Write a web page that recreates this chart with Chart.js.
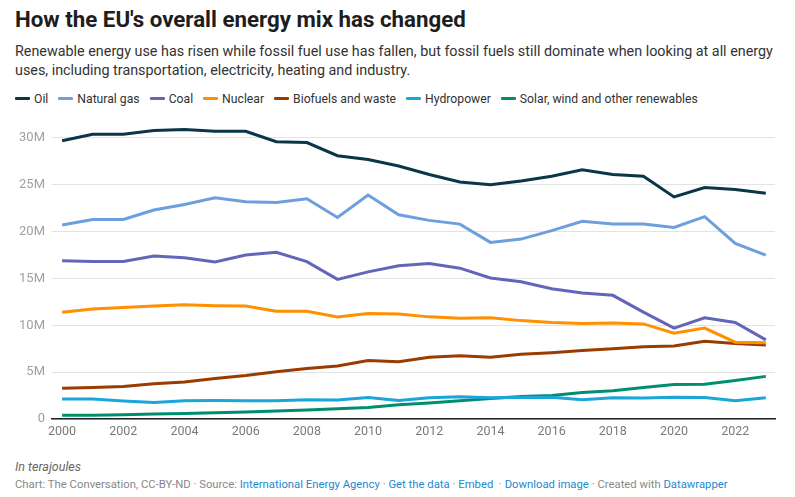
<!DOCTYPE html>
<html>
<head>
<meta charset="utf-8">
<script src="https://cdn.jsdelivr.net/npm/chart.js@4"></script>
<style>
    body { margin: 0; width: 795px; height: 497px; background: #fff; font-family: Roboto, sans-serif; position: relative; overflow: hidden; }
    #title { position: absolute; left: 15px; top: 6px; font-size: 22.3px; font-weight: 700; color: #1d1d1d; }
    #sub { position: absolute; left: 15px; top: 42px; width: 775px; font-size: 14.35px; line-height: 19px; color: #333; }
    #legend { position: absolute; left: 15px; top: 92px; font-size: 12.2px; color: #333; white-space: nowrap; }
    #legend span.item { display: inline-block; margin-right: 10px; }
    #legend span.mark { display: inline-block; width: 15px; height: 3px; vertical-align: middle; margin-right: 4px; position: relative; top: -1px; border-radius: 1px; }
    #wrap { position: absolute; left: 0; top: 110px; width: 795px; height: 345px; }
    #notes { position: absolute; left: 15px; top: 459px; font-size: 12.5px; font-style: italic; color: #666; }
    #foot { position: absolute; left: 15px; top: 478px; font-size: 11.3px; color: #888; white-space: nowrap; }
    #foot a { color: #1a8ad0; text-decoration: none; }
</style>
</head>
<body>
<div id="title">How the EU's overall energy mix has changed</div>
<div id="sub">Renewable energy use has risen while fossil fuel use has fallen, but fossil fuels still dominate when looking at all energy uses, including transportation, electricity, heating and industry.</div>
<div id="legend"></div>
<div id="wrap"><canvas id="chart"></canvas></div>
<div id="notes">In terajoules</div>
<div id="foot">Chart: The Conversation, CC-BY-ND &middot; Source: <a>International Energy Agency</a> &middot; <a>Get the data</a> &middot; <a>Embed</a> &nbsp;&middot; <a>Download image</a> &middot; Created with <a>Datawrapper</a></div>

<script>
// years 2000 - 2023, values in millions of terajoules
const years = [2000, 2001, 2002, 2003, 2004, 2005, 2006, 2007, 2008, 2009, 2010, 2011, 2012, 2013, 2014, 2015, 2016, 2017, 2018, 2019, 2020, 2021, 2022, 2023];
const yearTicks = [2000, 2002, 2004, 2006, 2008, 2010, 2012, 2014, 2016, 2018, 2020, 2022];
const valueTicks = [0, 5, 10, 15, 20, 25, 30];

const oil = [29.7, 30.4, 30.4, 30.8, 30.9, 30.7, 30.7, 29.6, 29.5, 28.1, 27.7, 27.0, 26.1, 25.3, 25.0, 25.4, 25.9, 26.6, 26.1, 25.9, 23.7, 24.7, 24.5, 24.1];
const naturalGas = [20.7, 21.3, 21.3, 22.3, 22.9, 23.6, 23.2, 23.1, 23.5, 21.5, 23.9, 21.8, 21.2, 20.8, 18.85, 19.2, 20.1, 21.1, 20.8, 20.8, 20.45, 21.6, 18.75, 17.5];
const coal = [16.9, 16.8, 16.8, 17.4, 17.2, 16.75, 17.5, 17.8, 16.8, 14.9, 15.7, 16.35, 16.6, 16.1, 15.05, 14.65, 13.9, 13.45, 13.2, 11.4, 9.7, 10.8, 10.3, 8.45];
const nuclear = [11.4, 11.75, 11.9, 12.05, 12.2, 12.1, 12.05, 11.5, 11.5, 10.9, 11.25, 11.2, 10.9, 10.75, 10.8, 10.5, 10.3, 10.2, 10.25, 10.15, 9.15, 9.7, 8.2, 8.15];
const biofuels = [3.27, 3.37, 3.48, 3.77, 3.95, 4.33, 4.65, 5.05, 5.4, 5.65, 6.25, 6.1, 6.6, 6.75, 6.6, 6.9, 7.07, 7.3, 7.5, 7.7, 7.8, 8.3, 8.05, 7.9];
const hydropower = [2.13, 2.13, 1.92, 1.77, 1.95, 1.97, 1.95, 1.95, 2.06, 2.02, 2.3, 1.98, 2.27, 2.38, 2.27, 2.3, 2.33, 2.06, 2.27, 2.23, 2.33, 2.3, 1.95, 2.27];
const solarWind = [0.39, 0.39, 0.46, 0.53, 0.6, 0.67, 0.75, 0.85, 0.96, 1.1, 1.24, 1.53, 1.71, 1.95, 2.2, 2.41, 2.52, 2.84, 3.02, 3.37, 3.69, 3.72, 4.12, 4.55];

const seriesNames = ["Oil", "Natural gas", "Coal", "Nuclear", "Biofuels and waste", "Hydropower", "Solar, wind and other renewables"];
const seriesValues = [oil, naturalGas, coal, nuclear, biofuels, hydropower, solarWind];
const seriesColors = ["#0b3548", "#6d9fdc", "#6366b8", "#ff9000", "#9a3c00", "#1ba5d9", "#008f6e"];


function toPoints(values){
    let pts = [];
    for (let x = 0; x < values.length; x++){
        pts.push({ x: years[x], y: values[x] });
    };
    return pts;
};

let datasets = [];
for (let x = 0; x < seriesNames.length; x++){
    datasets.push({
        label: seriesNames[x],
        data: toPoints(seriesValues[x]),
        borderColor: seriesColors[x],
        backgroundColor: seriesColors[x],
        borderWidth: 3,
        pointRadius: 0,
        tension: 0,
        fill: false,
    });
};

const chart = new Chart(document.getElementById('chart'), {
    type: 'line',
    data: { datasets: datasets },
    options: {
        responsive: true,
        maintainAspectRatio: false,
        animation: false,
        layout: { padding: { top: 0, right: 20, left: 0, bottom: 0 } },
        plugins: {
            legend: { display: false },
            tooltip: { enabled: false },
        },
        scales: {
            x: {
                type: 'linear',
                min: 1999.67,
                max: 2023.3,
                afterBuildTicks: (scale) => { scale.ticks = yearTicks.map(v => ({ value: v })); },
                afterFit: (scale) => { scale.height = 36; },
                grid: { display: false, drawTicks: false },
                border: { display: true, color: '#222', width: 1.5 },
                ticks: {
                    color: '#7a7a7a',
                    padding: 5,
                    maxRotation: 0,
                    font: { family: 'Roboto', size: 12.5 },
                    callback: (v) => String(v),
                },
            },
            y: {
                min: 0,
                max: 31.4,
                afterBuildTicks: (scale) => { scale.ticks = valueTicks.map(v => ({ value: v })); },
                afterFit: (scale) => { scale.width = 52; },
                grid: { color: '#e3e3e3', lineWidth: 1, drawTicks: false },
                border: { display: false },
                ticks: {
                    color: '#a0a0a0',
                    padding: 7,
                    font: { family: 'Roboto', size: 13 },
                    callback: (v) => v === 0 ? '0' : v + 'M',
                },
            },
        },
    },
});

// legend built from the chart's own datasets
let legend = document.getElementById('legend');
for (let ds of chart.data.datasets){
    let item = document.createElement('span');
    item.className = 'item';
    let mark = document.createElement('span');
    mark.className = 'mark';
    mark.style.background = ds.borderColor;
    item.appendChild(mark);
    item.appendChild(document.createTextNode(ds.label));
    legend.appendChild(item);
};
</script>
</body>
</html>
